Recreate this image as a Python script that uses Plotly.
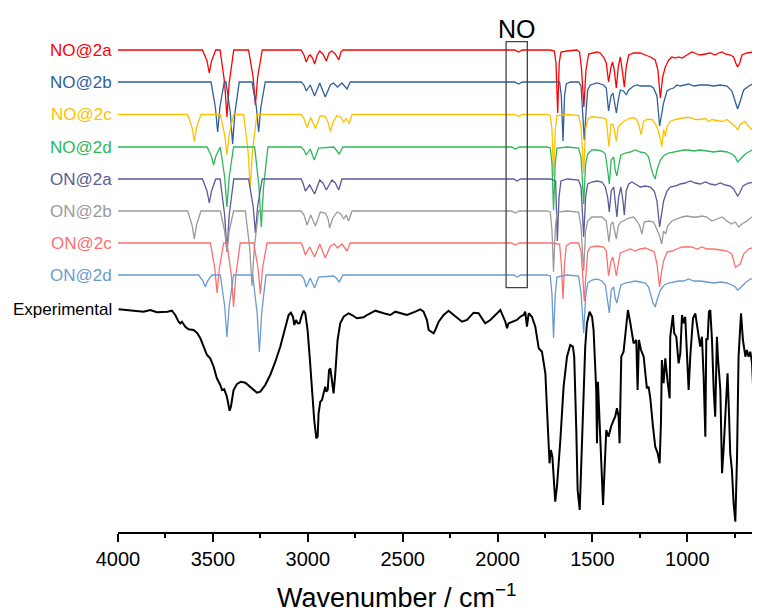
import plotly.graph_objects as go

# ---------------- data (wavenumber cm-1, intensity a.u. relative to each trace's baseline) -------------
no2a = [(4000,0),(3555,0),(3531,-11),(3519,-23),(3507,-11),(3485,0),(3462,0),(3438,-33),(3426,-67),(3414,-33),(3390,0),
        (3312,0),(3288,-27),(3276,-55),(3264,-27),(3240,0),
        (3035,0),(3020,-5),(3008,-12),(2995,-6),(2987,-5),(2975,-8),(2964,-14),(2950,-5),(2937,-1),(2920,-4),(2902,-11),
        (2888,-3),(2873,-1),(2855,-4),(2837,-10),(2825,-2),(2815,0),
        (1910,0),(1889,-2),(1870,0),
        (1722,0),(1701,-1),(1692,-13),(1683,-63),(1675,-13),(1666,-2),(1634,-1),(1582,0),(1568,-2),(1557,-20),(1545,-57),
        (1534,-20),(1520,-4),(1494,-3),(1476,-2),(1459,-3),(1441,-7),(1427,-13),(1415,-32),(1402,-17),(1394,-12),(1385,-20),
        (1374,-38),(1364,-17),(1353,-7),(1343,-20),(1332,-37),(1322,-17),(1309,-5),(1283,-3),(1248,-3),(1221,-5),(1195,-7),
        (1169,-10),(1155,-20),(1142,-48),(1130,-27),(1116,-17),(1098,-10),(1081,-7),(1063,-8),(1046,-7),(1028,-8),(1002,-5),
        (976,-2),(949,-4),(932,-5),(905,-4),(879,-3),(853,-5),(835,-3),(817,-2),(800,-4),(773,-5),(756,-7),(745,-13),(735,-17),
        (724,-13),(712,-5),(686,-3),(651,-2),(616,-3)]

no2b = [(4000,0),(3510,0),(3487,-25),(3475,-50),(3463,-25),(3440,0),(3431,0),(3408,-31),(3396,-62),(3384,-31),(3361,0),
        (3294,0),(3271,-25),(3259,-50),(3247,-25),(3224,0),
        (3035,0),(3020,-3),(3008,-9),(2987,-3),(2964,-14),(2937,-1),(2908,-15),(2881,-3),(2864,-1),(2843,-5),(2820,-1),
        (2793,-7),(2776,0),
        (1910,0),(1889,-2),(1870,0),
        (1722,0),(1673,0),(1664,-14),(1655,-59),(1647,-14),(1638,-2),(1617,0),(1573,0),(1560,-4),(1552,-28),(1543,-58),
        (1534,-31),(1525,-8),(1511,-3),(1476,-1),(1441,-3),(1427,-6),(1415,-29),(1402,-14),(1392,-11),(1385,-19),(1374,-31),
        (1364,-18),(1353,-8),(1336,-9),(1322,-13),(1309,-8),(1283,-4),(1265,-3),(1248,-4),(1221,-4),(1195,-4),(1178,-6),
        (1160,-14),(1146,-44),(1135,-31),(1125,-21),(1107,-9),(1090,-7),(1072,-6),(1055,-3),(1037,-4),(1019,-3),(993,-2),
        (967,-4),(932,-3),(897,-3),(861,-4),(826,-3),(791,-4),(765,-9),(747,-21),(735,-27),(721,-19),(703,-8),(668,-3),
        (633,-1),(616,-1)]

no2c = [(4000,0),(3633,0),(3610,-13),(3598,-27),(3586,-13),(3563,0),(3461,0),(3438,-20),(3426,-40),(3414,-20),(3391,0),
        (3338,0),(3315,-36),(3303,-73),(3291,-36),(3268,0),
        (3035,0),(3020,-4),(3004,-13),(2984,-3),(2960,-14),(2934,-1),(2908,-2),(2893,-8),(2881,-17),(2868,-8),(2846,-1),
        (2825,-3),(2811,-8),(2798,-4),(2781,-9),(2767,0),
        (1910,0),(1889,-2),(1870,0),
        (1740,0),(1722,-1),(1713,-15),(1705,-62),(1696,-15),(1687,-1),(1634,0),(1573,-1),(1560,-12),(1546,-59),(1536,-15),
        (1525,-5),(1503,-2),(1476,-3),(1450,-3),(1427,-5),(1413,-32),(1402,-10),(1392,-10),(1385,-15),(1374,-27),(1364,-12),
        (1350,-9),(1336,-7),(1309,-4),(1283,-3),(1269,-5),(1257,-9),(1244,-20),(1230,-7),(1213,-5),(1186,-5),(1169,-9),
        (1155,-15),(1142,-25),(1134,-32),(1125,-15),(1116,-22),(1107,-12),(1090,-7),(1063,-5),(1037,-4),(1011,-3),(984,-3),
        (958,-5),(932,-5),(905,-4),(888,-7),(870,-5),(844,-6),(817,-7),(791,-5),(765,-9),(747,-12),(735,-15),(721,-10),
        (695,-7),(677,-12),(659,-15),(642,-7),(624,-3),(616,-3)]

no2d = [(4000,0),(3531,0),(3508,-9),(3496,-18),(3484,-9),(3461,0),(3438,-30),(3426,-60),(3414,-30),(3391,0),
        (3280,0),(3257,-40),(3245,-80),(3233,-40),(3210,0),
        (3035,0),(3020,-3),(3008,-8),(2987,-2),(2966,-13),(2943,-1),(2864,0),(2850,-3),(2834,-7),(2815,0),
        (1925,0),(1906,-2),(1885,0),
        (1740,0),(1722,-1),(1713,-17),(1705,-63),(1696,-17),(1687,-1),(1634,0),(1573,-1),(1560,-10),(1546,-57),(1536,-17),
        (1525,-7),(1503,-3),(1476,-3),(1450,-4),(1432,-7),(1420,-23),(1411,-37),(1401,-13),(1388,-10),(1380,-23),(1371,-29),
        (1360,-17),(1350,-8),(1327,-6),(1301,-5),(1274,-3),(1248,-5),(1221,-6),(1204,-10),(1192,-20),(1181,-27),(1169,-32),
        (1160,-23),(1142,-13),(1121,-8),(1099,-6),(1072,-5),(1046,-4),(1019,-3),(993,-3),(967,-4),(932,-3),(897,-4),
        (861,-5),(826,-4),(791,-5),(765,-7),(747,-10),(735,-15),(721,-12),(695,-7),(668,-4),(642,-2),(616,-2)]

on2a = [(4000,0),(3555,0),(3531,-12),(3519,-24),(3507,-12),(3485,0),(3462,0),(3438,-36),(3426,-73),(3414,-36),(3390,0),
        (3312,0),(3288,-27),(3276,-54),(3264,-27),(3240,0),
        (3035,0),(3025,-4),(3013,-12),(2990,-6),(2964,-15),(2937,-1),(2920,-4),(2902,-11),(2873,-1),(2855,-4),(2837,-11),
        (2820,0),
        (1915,0),(1897,-2),(1878,0),
        (1722,0),(1694,-2),(1685,-62),(1676,-18),(1666,-2),(1634,0),(1573,-1),(1560,-8),(1546,-58),(1536,-18),(1525,-5),
        (1503,-3),(1476,-2),(1450,-3),(1432,-8),(1420,-18),(1411,-33),(1401,-12),(1388,-8),(1380,-22),(1371,-38),(1362,-18),
        (1350,-8),(1339,-22),(1332,-36),(1322,-12),(1309,-5),(1292,-3),(1274,-5),(1248,-8),(1221,-7),(1195,-8),(1174,-12),
        (1160,-22),(1146,-48),(1135,-32),(1125,-22),(1107,-12),(1090,-8),(1063,-7),(1037,-5),(1011,-4),(984,-2),(958,-4),
        (932,-5),(905,-3),(879,-5),(853,-6),(826,-4),(800,-6),(773,-7),(756,-10),(744,-15),(735,-17),(724,-14),(707,-7),
        (677,-4),(642,-3),(616,-3)]

on2b = [(4000,0),(3633,0),(3610,-14),(3598,-28),(3586,-14),(3563,0),(3461,0),(3438,-20),(3426,-41),(3414,-20),(3391,0),
        (3329,0),(3306,-37),(3294,-75),(3282,-37),(3259,0),
        (3035,0),(3020,-4),(3004,-14),(2984,-4),(2960,-15),(2934,-1),(2908,-2),(2893,-8),(2885,-17),(2870,-8),(2846,-1),
        (2825,-3),(2811,-8),(2798,-4),(2785,-10),(2767,0),
        (1925,0),(1906,-2),(1885,0),
        (1740,0),(1722,-1),(1713,-20),(1705,-61),(1696,-20),(1687,-1),(1634,0),(1573,-1),(1560,-16),(1546,-60),(1536,-20),
        (1525,-10),(1503,-6),(1476,-6),(1450,-6),(1427,-10),(1413,-31),(1402,-13),(1392,-11),(1383,-20),(1374,-28),
        (1364,-15),(1350,-11),(1327,-9),(1309,-7),(1283,-6),(1265,-10),(1251,-15),(1239,-23),(1227,-11),(1204,-10),
        (1177,-11),(1160,-18),(1146,-25),(1135,-33),(1125,-20),(1114,-23),(1104,-15),(1081,-10),(1055,-8),(1028,-6),
        (1002,-5),(976,-6),(949,-6),(923,-5),(897,-6),(870,-10),(844,-8),(817,-6),(791,-10),(768,-13),(747,-11),(730,-16),
        (712,-13),(686,-10),(659,-6),(633,-3),(616,-2)]

on2c = [(4000,0),(3513,0),(3490,-25),(3478,-50),(3466,-25),(3443,0),(3426,0),(3403,-32),(3391,-64),(3379,-32),(3356,0),
        (3285,0),(3262,-25),(3250,-51),(3238,-25),(3215,0),
        (3035,0),(3025,-4),(3013,-12),(2990,-4),(2964,-14),(2937,-1),(2908,-15),(2881,-3),(2860,-1),(2843,-5),(2820,-1),
        (2793,-8),(2776,0),
        (1925,0),(1906,-2),(1885,0),
        (1722,0),(1673,-1),(1664,-21),(1655,-56),(1647,-21),(1638,-3),(1617,0),(1573,0),(1560,-8),(1552,-28),(1543,-58),
        (1534,-31),(1525,-9),(1511,-4),(1476,-3),(1441,-4),(1427,-8),(1415,-33),(1402,-18),(1392,-14),(1385,-21),(1374,-33),
        (1364,-21),(1353,-10),(1327,-8),(1301,-6),(1274,-8),(1248,-6),(1221,-5),(1195,-7),(1174,-9),(1160,-21),(1146,-44),
        (1135,-28),(1125,-18),(1107,-9),(1081,-8),(1055,-6),(1028,-4),(1002,-4),(976,-4),(949,-6),(923,-4),(897,-6),
        (861,-6),(826,-7),(791,-8),(765,-11),(756,-18),(747,-24),(735,-23),(721,-21),(703,-11),(677,-6),(642,-4),(616,-4)]

on2d = [(4000,0),(3575,0),(3552,-6),(3540,-12),(3528,-6),(3505,0),(3461,0),(3438,-31),(3426,-62),(3414,-31),(3391,0),
        (3290,0),(3267,-38),(3255,-77),(3243,-38),(3220,0),
        (3035,0),(3020,-4),(3008,-12),(2987,-3),(2964,-13),(2943,-2),(2864,-1),(2850,-3),(2834,-7),(2815,0),
        (1915,0),(1897,-2),(1878,0),
        (1740,0),(1722,-1),(1713,-20),(1705,-63),(1696,-20),(1687,-2),(1634,0),(1573,-1),(1560,-18),(1546,-58),(1536,-22),
        (1525,-8),(1503,-5),(1476,-4),(1450,-6),(1432,-10),(1420,-28),(1411,-38),(1401,-15),(1388,-12),(1380,-23),(1371,-28),
        (1360,-18),(1350,-10),(1327,-8),(1301,-7),(1274,-6),(1248,-7),(1221,-8),(1204,-12),(1192,-22),(1181,-28),(1169,-32),
        (1160,-25),(1142,-15),(1121,-10),(1099,-8),(1072,-7),(1046,-6),(1019,-6),(993,-4),(967,-6),(932,-6),(897,-7),
        (861,-8),(826,-7),(791,-8),(765,-10),(747,-12),(735,-15),(721,-13),(695,-8),(668,-4),(642,-3),(616,-3)]

experimental = [(3997,222.7),(3918,221.3),(3865,220.3),(3830,222.0),(3795,219.7),(3740,220.3),(3716,221.3),(3698,217.0),
    (3681,210.3),(3672,208.7),(3663,210.3),(3645,205.3),(3628,202.7),(3602,202.0),(3584,199.3),(3566,193.7),(3549,185.3),
    (3531,177.0),(3514,173.7),(3496,165.3),(3479,153.7),(3461,147.0),(3452,142.0),(3440,142.7),(3426,135.3),(3417,123.7),
    (3412,121.3),(3405,125.3),(3391,142.0),(3373,148.0),(3352,150.3),(3329,149.3),(3303,144.7),(3268,139.3),(3250,140.3),
    (3224,147.0),(3198,157.0),(3171,170.3),(3145,185.3),(3118,205.3),(3101,217.0),(3089,219.3),(3078,215.3),(3071,207.0),
    (3062,212.0),(3053,208.7),(3043,208.7),(3034,215.3),(3022,221.3),(3013,218.7),(3001,202.0),(2990,175.3),(2978,142.0),
    (2966,112.0),(2955,93.7),(2948,95.3),(2943,118.7),(2934,130.3),(2925,132.0),(2917,138.7),(2908,145.3),(2902,140.3),
    (2895,142.0),(2888,162.0),(2881,163.7),(2873,152.0),(2864,138.7),(2855,158.7),(2843,192.0),(2829,208.7),(2811,215.3),
    (2785,218.7),(2767,217.0),(2741,213.7),(2706,214.7),(2688,217.0),(2644,221.3),(2600,218.7),(2565,217.0),(2539,220.3),
    (2512,218.7),(2477,217.0),(2433,220.3),(2407,222.7),(2390,220.3),(2372,212.0),(2363,202.0),(2346,200.3),(2337,198.7),
    (2328,202.0),(2310,210.3),(2284,217.0),(2258,221.3),(2231,217.0),(2187,210.3),(2161,212.0),(2126,219.3),(2100,218.7),
    (2065,208.7),(2038,212.0),(1985,222.0),(1959,210.3),(1950,203.7),(1942,208.7),(1898,212.0),(1880,215.3),(1863,217.0),
    (1854,220.3),(1845,205.3),(1836,218.7),(1819,215.3),(1801,205.3),(1783,183.7),(1766,180.3),(1748,158.7),(1740,125.3),
    (1731,92.0),(1726,68.7),(1719,82.0),(1711,75.3),(1696,30.3),(1687,45.3),(1669,92.0),(1652,145.3),(1634,175.3),
    (1617,187.0),(1603,185.3),(1596,175.3),(1585,102.0),(1578,42.0),(1567,22.0),(1559,68.7),(1546,142.0),(1543,175.3),
    (1538,185.3),(1529,208.7),(1515,220.3),(1502,215.3),(1494,202.0),(1480,142.0),(1476,88.7),(1471,150.3),(1459,102.0),
    (1444,27.0),(1437,58.7),(1427,102.0),(1415,95.3),(1402,105.3),(1388,112.0),(1380,115.3),(1371,123.7),(1362,115.3),
    (1357,88.7),(1348,175.3),(1336,180.3),(1322,208.7),(1313,222.0),(1300,208.7),(1283,188.7),(1269,192.0),(1262,142.0),
    (1255,192.0),(1244,182.0),(1230,175.3),(1213,143.7),(1204,145.3),(1195,133.7),(1181,105.3),(1169,85.3),(1156,78.7),
    (1146,68.7),(1139,108.7),(1134,172.0),(1125,148.7),(1116,173.7),(1104,150.3),(1093,133.7),(1090,195.3),(1076,217.0),
    (1069,198.7),(1058,195.3),(1046,168.7),(1037,178.7),(1028,217.0),(1019,208.7),(1011,215.3),(1002,170.3),(993,142.0),
    (984,177.0),(970,213.7),(958,218.7),(946,205.3),(932,185.3),(923,195.3),(914,155.3),(905,95.3),(900,193.7),(893,192.0),
    (886,220.3),(879,222.0),(870,192.0),(861,142.0),(853,115.3),(844,195.3),(839,175.3),(826,142.0),(817,58.7),(809,82.0),
    (795,142.0),(788,158.7),(781,122.0),(774,78.7),(765,62.0),(756,28.7),(747,10.3),(738,75.3),(730,175.3),(717,218.7),
    (707,192.0),(694,175.3),(686,182.0),(677,175.3),(668,180.3),(659,168.7),(651,135.3),(642,158.7),(633,178.7),
    (615,218.7)]

names = ["NO@2a", "NO@2b", "NO@2c", "NO@2d", "ON@2a", "ON@2b", "ON@2c", "ON@2d"]
spectra = [no2a, no2b, no2c, no2d, on2a, on2b, on2c, on2d]
no_band = (1955, 1843)   # highlighted NO stretching window, cm-1

# ---------------- styling / layout -------------
colors = ["#FF0000", "#2F5F9C", "#FFC000", "#2DB85A", "#5A5A9C", "#9A9A9A", "#FF6E6E", "#6A9AD2"]
offsets = [482, 450, 417.5, 385, 353, 321, 289, 257]
FONT = "Arial, Liberation Sans, sans-serif"

fig = go.Figure()
for name, data, col, off in zip(names, spectra, colors, offsets):
    fig.add_trace(go.Scatter(x=[p[0] for p in data], y=[off + p[1] for p in data], mode="lines",
                             line=dict(color=col, width=1.3), name=name, showlegend=False))
    fig.add_annotation(x=4000, y=off, xref="x", yref="y", text=name, showarrow=False, xanchor="right",
                       xshift=-4, font=dict(family=FONT, size=17, color=col))

fig.add_trace(go.Scatter(x=[p[0] for p in experimental], y=[p[1] for p in experimental], mode="lines",
                         line=dict(color="black", width=2), name="Experimental", showlegend=False))
fig.add_annotation(x=4000, y=experimental[0][1], xref="x", yref="y", text="Experimental", showarrow=False,
                   xanchor="right", xshift=-4, font=dict(family=FONT, size=17, color="black"))

fig.add_shape(type="rect", xref="x", yref="y", x0=no_band[0], x1=no_band[1], y0=244.3, y1=490.3,
              line=dict(color="#444444", width=1.3), fillcolor="rgba(0,0,0,0)")
fig.add_annotation(x=(no_band[0] + no_band[1]) / 2, y=490.3, xref="x", yref="y", text="NO", showarrow=False,
                   yanchor="bottom", yshift=-3, font=dict(family=FONT, size=25, color="black"))

# axis title (placed as annotation so its horizontal position can follow the reference)
fig.add_annotation(x=0.435, y=-0.125, xref="paper", yref="paper", text="Wavenumber / cm<sup>−1</sup>",
                   showarrow=False, xanchor="center", yanchor="middle",
                   font=dict(family=FONT, size=27, color="black"))

fig.update_layout(
    width=752, height=608, margin=dict(l=110, r=0, t=12, b=84),
    paper_bgcolor="white", plot_bgcolor="white",
    xaxis=dict(range=[4000, 617], tickmode="linear", tick0=0, dtick=500, showgrid=False, zeroline=False,
               showline=True, linecolor="black", linewidth=2, ticks="outside", ticklen=8, tickwidth=1.5,
               tickcolor="black", tickfont=dict(family=FONT, size=20, color="black"),
               minor=dict(ticks="outside", ticklen=4, tickwidth=1.5, tickcolor="black", dtick=250, showgrid=False)),
    yaxis=dict(range=[0, 512], visible=False, fixedrange=True),
)

fig.write_html("out.html")
